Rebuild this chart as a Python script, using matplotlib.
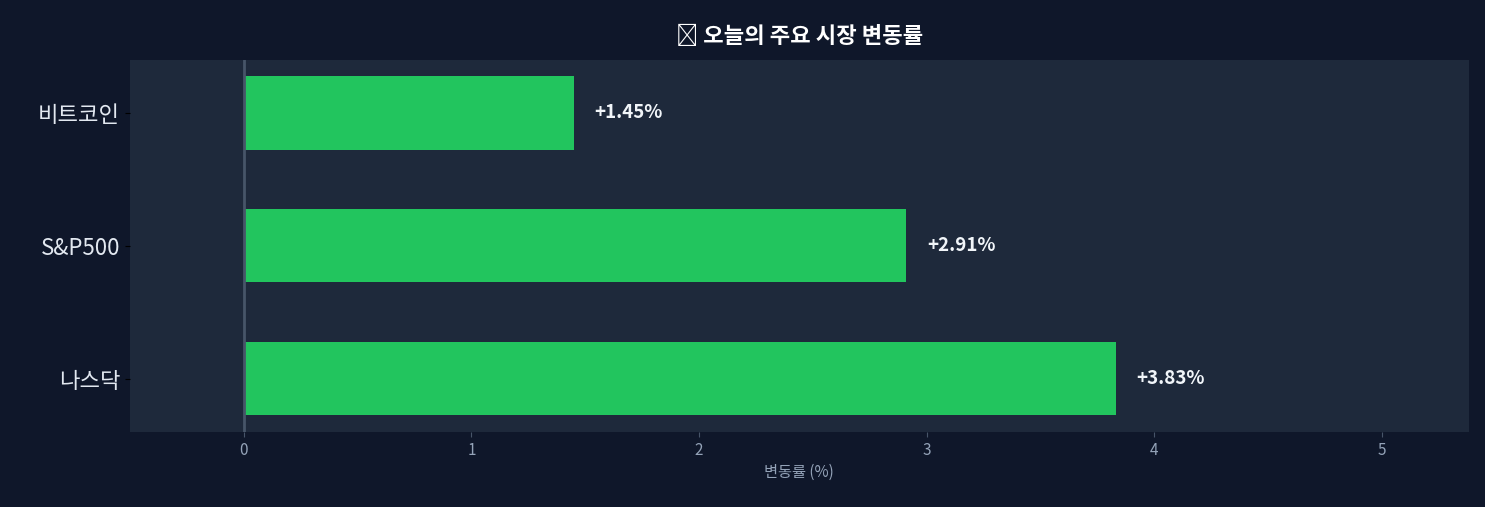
import matplotlib
matplotlib.use("Agg")
import matplotlib.pyplot as plt

plt.rcParams['font.family'] = ['Noto Sans CJK KR', 'DejaVu Sans']

categories = ["비트코인", "S&P500", "나스닥"]
values = [1.45, 2.91, 3.83]
xticks = [0, 1, 2, 3, 4, 5]

fig = plt.figure(figsize=(14.85, 5.07), dpi=100, facecolor="#0f172a")
ax = fig.add_axes([0.0875, 0.148, 0.9015, 0.734], facecolor="#1e293b")
y = list(range(len(categories)))
ax.barh(y, values, height=0.55, color="#22c55e")
ax.axvline(0, color="#475569", lw=2)
for yi, v in zip(y, values):
    ax.text(v + 0.09, yi, f"+{v:.2f}%", va="center", ha="left", color="#f1f5f9",
            fontsize=13.5, fontweight="bold")
ax.set_yticks(y)
ax.set_yticklabels(categories, fontsize=16, color="#e2e8f0")
ax.set_xticks(xticks)
ax.set_xticklabels([str(t) for t in xticks], fontsize=11, color="#94a3b8")
ax.set_xlim(-0.5, 5.38)
ax.set_ylim(2.4, -0.4)
ax.tick_params(axis="x", colors="#475569", labelcolor="#94a3b8")
ax.tick_params(axis="y", colors="black", labelcolor="#e2e8f0")
for s in ax.spines.values():
    s.set_visible(False)
ax.set_xlabel("변동률 (%)", fontsize=11, color="#94a3b8")
ax.set_title("📊 오늘의 주요 시장 변동률", fontsize=16, fontweight="bold",
             color="white", pad=12)
fig.savefig("out.png", facecolor=fig.get_facecolor())
